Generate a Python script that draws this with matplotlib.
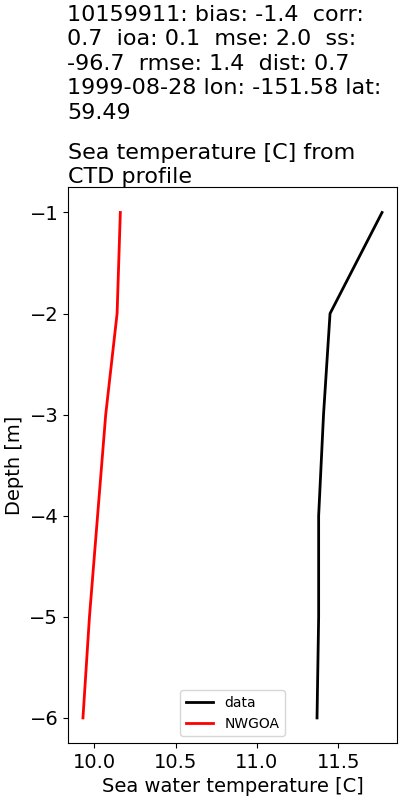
import matplotlib
matplotlib.use("Agg")
import matplotlib.pyplot as plt

# depth levels [m] and temperatures [C]
depth = [-1, -2, -3, -4, -5, -6]
data_temp = [11.77, 11.45, 11.41, 11.38, 11.38, 11.37]
model_temp = [10.16, 10.14, 10.07, 10.02, 9.97, 9.93]

stats_title = ("10159911: bias: -1.4  corr:\n0.7  ioa: 0.1  mse: 2.0  ss:\n"
               "-96.7  rmse: 1.4  dist: 0.7\n1999-08-28 lon: -151.58 lat:\n59.49")
var_title = "Sea temperature [C] from\nCTD profile"

fig, ax = plt.subplots(figsize=(4, 8), dpi=100)
fig.subplots_adjust(left=0.17, right=0.9925, top=0.766, bottom=0.071)

ax.plot(data_temp, depth, color='black', lw=2, label='data')
ax.plot(model_temp, depth, color='red', lw=2, label='NWGOA')

ax.set_xlabel("Sea water temperature [C]", fontsize=14)
ax.set_ylabel("Depth [m]", fontsize=14)
ax.tick_params(labelsize=14)
ax.set_xticks([10.0, 10.5, 11.0, 11.5])

ax.set_title(var_title, fontsize=16, loc='left', pad=2, linespacing=1.25)
fig.text(0.1675, 0.994, stats_title, fontsize=16, ha='left', va='top',
         linespacing=1.28)

ax.legend(loc='lower center', fontsize=10)

fig.savefig("out.png")
